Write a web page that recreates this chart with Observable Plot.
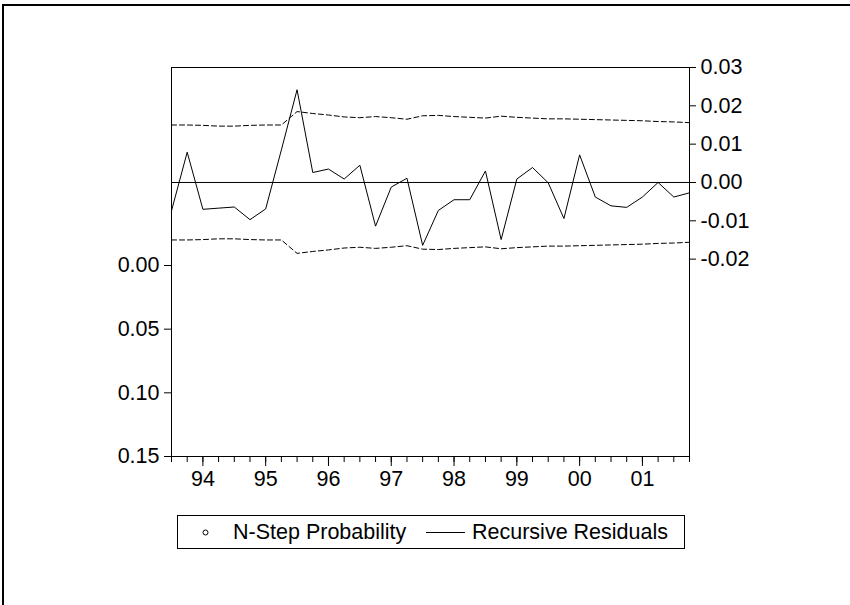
<!DOCTYPE html>
<html>
<head>
<meta charset="utf-8">
<script src="https://cdn.jsdelivr.net/npm/d3@7"></script>
<script src="https://cdn.jsdelivr.net/npm/@observablehq/plot@0.6"></script>
<style>
  html, body { margin: 0; padding: 0; background: #fff; }
  #page { position: relative; width: 850px; height: 605px; overflow: hidden;
          font-family: "Liberation Sans", Arial, sans-serif; color: #000; }
  #chart { position: absolute; left: 0; top: 0; }
  #edge { position: absolute; left: 2px; top: 4px; right: -10px; bottom: -10px;
          border-left: 2px solid #000; border-top: 2px solid #000; }
  #legend { position: absolute; left: 177px; top: 515px; width: 508px; height: 34px;
            box-sizing: border-box; border: 1px solid #000; font-size: 21.5px; }
  #legend .item { position: absolute; top: 0; line-height: 32px; white-space: nowrap; }
  #legend svg { position: absolute; top: 0; }
</style>
</head>
<body>
<div id="page">
  <div id="chart"></div>
  <div id="edge"></div>
  <div id="legend"></div>
</div>
<script>
// Quarterly sample, 1993Q3 – 2001Q4
const periods = [
  "1993Q3","1993Q4",
  "1994Q1","1994Q2","1994Q3","1994Q4",
  "1995Q1","1995Q2","1995Q3","1995Q4",
  "1996Q1","1996Q2","1996Q3","1996Q4",
  "1997Q1","1997Q2","1997Q3","1997Q4",
  "1998Q1","1998Q2","1998Q3","1998Q4",
  "1999Q1","1999Q2","1999Q3","1999Q4",
  "2000Q1","2000Q2","2000Q3","2000Q4",
  "2001Q1","2001Q2","2001Q3","2001Q4"
];

// Recursive residuals (right axis)
const recursiveResiduals = [
  -0.0074, 0.0079,
  -0.0070, -0.0067, -0.0064, -0.0097,
  -0.0069, 0.0085, 0.0242, 0.0026,
  0.0035, 0.0009, 0.0045, -0.0114,
  -0.0012, 0.0011, -0.0164, -0.0073,
  -0.0045, -0.0045, 0.0030, -0.0149,
  0.0009, 0.0039, -0.0001, -0.0094,
  0.0072, -0.0038, -0.0061, -0.0065,
  -0.0038, 0.0000, -0.0038, -0.0027
];

// ± 2 standard-error band around the residuals
const twoStdErr = [
  0.0150, 0.0150,
  0.0149, 0.0147, 0.0147, 0.0149,
  0.0150, 0.0150, 0.0185, 0.0180,
  0.0176, 0.0171, 0.0169, 0.0172,
  0.0169, 0.0165, 0.0174, 0.0175,
  0.0172, 0.0170, 0.0168, 0.0173,
  0.0170, 0.0168, 0.0166, 0.0166,
  0.0165, 0.0164, 0.0163, 0.0162,
  0.0161, 0.0159, 0.0158, 0.0156
];

// N-step forecast probabilities that fall inside the 0–0.15 window (none do)
const nStepProbability = [];

// Axis ticks and labels
const yearLabels = ["94","95","96","97","98","99","00","01"];
const yearTicks = [1994, 1995, 1996, 1997, 1998, 1999, 2000, 2001];
const residualTicks = [0.03, 0.02, 0.01, 0.00, -0.01, -0.02];
const residualTickLabels = ["0.03","0.02","0.01","0.00","-0.01","-0.02"];
const probabilityTicks = [0.00, 0.05, 0.10, 0.15];
const probabilityTickLabels = ["0.00","0.05","0.10","0.15"];

// Scale extents for the two vertical axes
const residualDomain = [-0.0715, 0.03];
const probabilityDomain = [0.15, -0.1555];   // inverted: small probabilities sit high

const toYear = (s) => +s.slice(0, 4) + (+s.slice(5) - 1) / 4;
const quarterTicks = periods.map(toYear);

// Probability values are placed on the residual scale through a linear map
const probToResid = d3.scaleLinear().domain(probabilityDomain).range(residualDomain);
const probTickPositions = probabilityTicks.map(probToResid);

const rows = periods.map((p, i) => ({
  t: toYear(p),
  resid: recursiveResiduals[i],
  upper: twoStdErr[i],
  lower: -twoStdErr[i]
}));
const probRows = nStepProbability.map(d => ({t: toYear(d.period), y: probToResid(d.p)}));

const chart = Plot.plot({
  width: 850,
  height: 605,
  marginLeft: 171,
  marginRight: 161,
  marginTop: 67,
  marginBottom: 149,
  style: {fontFamily: "'Liberation Sans', Arial, sans-serif", fontSize: "21.5px", color: "#000", background: "transparent"},
  x: {domain: [quarterTicks[0], quarterTicks[quarterTicks.length - 1]], label: null},
  y: {domain: residualDomain, label: null},
  marks: [
    Plot.ruleY([0], {stroke: "#000", strokeWidth: 1}),
    Plot.line(rows, {x: "t", y: "upper", stroke: "#000", strokeWidth: 1, strokeDasharray: "5,3"}),
    Plot.line(rows, {x: "t", y: "lower", stroke: "#000", strokeWidth: 1, strokeDasharray: "5,3"}),
    Plot.line(rows, {x: "t", y: "resid", stroke: "#000", strokeWidth: 1}),
    Plot.dot(probRows, {x: "t", y: "y", r: 2.5, stroke: "#000", fill: "none"}),
    Plot.frame({stroke: "#000", strokeWidth: 1}),
    Plot.axisY({anchor: "right", ticks: residualTicks, tickSize: 6, tickPadding: 5, label: null,
      tickFormat: d => residualTickLabels[residualTicks.indexOf(d)]}),
    Plot.axisY({anchor: "left", ticks: probTickPositions, tickSize: 7, tickPadding: 5, label: null,
      tickFormat: d => probabilityTickLabels[probTickPositions.indexOf(d)]}),
    Plot.axisX({ticks: quarterTicks, tickSize: 6, label: null, tickFormat: () => ""}),
    Plot.axisX({ticks: yearTicks, tickSize: 10, tickPadding: 4, label: null,
      tickFormat: d => yearLabels[yearTicks.indexOf(d)]})
  ]
});
document.getElementById("chart").appendChild(chart);

// Legend: N-step probability marker and residual line sample
const legend = document.getElementById("legend");
legend.innerHTML = `
  <svg width="40" height="32" style="left:12px"><circle cx="15.5" cy="16.5" r="2.5" fill="none" stroke="#000"/></svg>
  <span class="item" style="left:55px">N-Step Probability</span>
  <svg width="50" height="32" style="left:248px"><line x1="0" x2="39" y1="16.5" y2="16.5" stroke="#000"/></svg>
  <span class="item" style="left:294px">Recursive Residuals</span>`;
</script>
</body>
</html>
